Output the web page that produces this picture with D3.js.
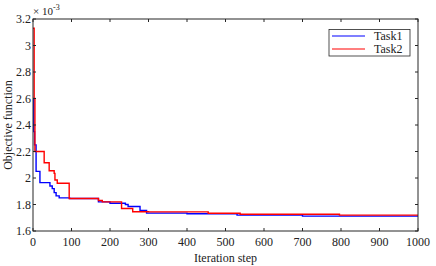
<!DOCTYPE html>
<html><head><meta charset="utf-8">
<script src="https://cdn.jsdelivr.net/npm/d3@7"></script>
</head><body style="margin:0;background:#fff"><svg id="c" width="436" height="266" style="display:block"></svg>
<script>
const xTicks = [0,100,200,300,400,500,600,700,800,900,1000];
const yTicks = [1.6,1.8,2.0,2.2,2.4,2.6,2.8,3.0,3.2];
const seriesNames = ["Task1","Task2"];
const seriesColors = ["#0000ff","#ff0000"];
// step-wise series (iteration, objective ×1e-3)
const task1Steps = [0,2,4,8,18,44,50,55,60,68,95,170,200,240,247,278,295,400,530,700,1000];
const task1Vals  = [2.60,2.35,2.25,2.05,1.965,1.94,1.92,1.89,1.865,1.85,1.845,1.82,1.81,1.80,1.785,1.755,1.735,1.73,1.72,1.712,1.712];
const task2Steps = [0,3,5,29,42,55,57,63,94,170,180,230,259,300,455,538,796,1000];
const task2Vals  = [3.13,2.60,2.20,2.115,2.055,2.035,1.985,1.96,1.845,1.83,1.82,1.77,1.745,1.744,1.734,1.726,1.72,1.72];

const FONT = "Liberation Serif";
const svg = d3.select("#c");
const L=33,R=418,T=19,B=231;
const x = d3.scaleLinear().domain([0,1000]).range([L,R]);
const y = d3.scaleLinear().domain([1.6,3.2]).range([B,T]);

const line = d3.line().x(d=>x(d[0])).y(d=>y(d[1])).curve(d3.curveStepAfter);
const data = [d3.zip(task1Steps,task1Vals), d3.zip(task2Steps,task2Vals)];
data.forEach((d,i)=>{
  svg.append("path").attr("d",line(d)).attr("fill","none")
   .attr("stroke",seriesColors[i]).attr("stroke-width",1.4);
});

svg.append("rect").attr("x",L).attr("y",T).attr("width",R-L).attr("height",B-T)
  .attr("fill","none").attr("stroke","#262626").attr("stroke-width",1);

const fs = 12;
function addText(xx,yy,txt,anchor,size){
  return svg.append("text").attr("x",xx).attr("y",yy).attr("text-anchor",anchor||"start")
    .attr("font-family",FONT).attr("font-size",size||fs).attr("fill","#222").text(txt);
}
// ticks (inward on all four sides) and labels, positioned with the scales
xTicks.forEach(t=>{
  svg.append("line").attr("x1",x(t)).attr("x2",x(t)).attr("y1",B).attr("y2",B-3).attr("stroke","#262626");
  svg.append("line").attr("x1",x(t)).attr("x2",x(t)).attr("y1",T).attr("y2",T+3).attr("stroke","#262626");
  addText(x(t),B+15,String(t),"middle");
});
yTicks.forEach(t=>{
  svg.append("line").attr("x1",L).attr("x2",L+3).attr("y1",y(t)).attr("y2",y(t)).attr("stroke","#262626");
  svg.append("line").attr("x1",R).attr("x2",R-3).attr("y1",y(t)).attr("y2",y(t)).attr("stroke","#262626");
  addText(L-2,y(t)+4,String(+t.toFixed(1)),"end");
});

// exponent label
const ex = addText(L,15,"","start",11);
ex.append("tspan").text("× 10");
ex.append("tspan").attr("dy",-5).attr("font-size",8).text("-3");

addText((L+R)/2,262,"Iteration step","middle");
addText(0,0,"Objective function","middle").attr("transform",`translate(12,${(T+B)/2}) rotate(-90)`);

// legend
svg.append("rect").attr("x",329).attr("y",29.5).attr("width",81).attr("height",26.5)
  .attr("fill","#fff").attr("stroke","#262626").attr("stroke-width",0.8);
seriesNames.forEach((n,i)=>{
  const yy = 36 + i*13;
  svg.append("line").attr("x1",332).attr("x2",365).attr("y1",yy).attr("y2",yy)
    .attr("stroke",seriesColors[i]).attr("stroke-width",1.2);
  addText(374,yy+4,n,"start");
});
svg.selectAll("text").each(function(){ this.style.setProperty("font-family","'Liberation Serif'","important"); });
</script></body></html>
